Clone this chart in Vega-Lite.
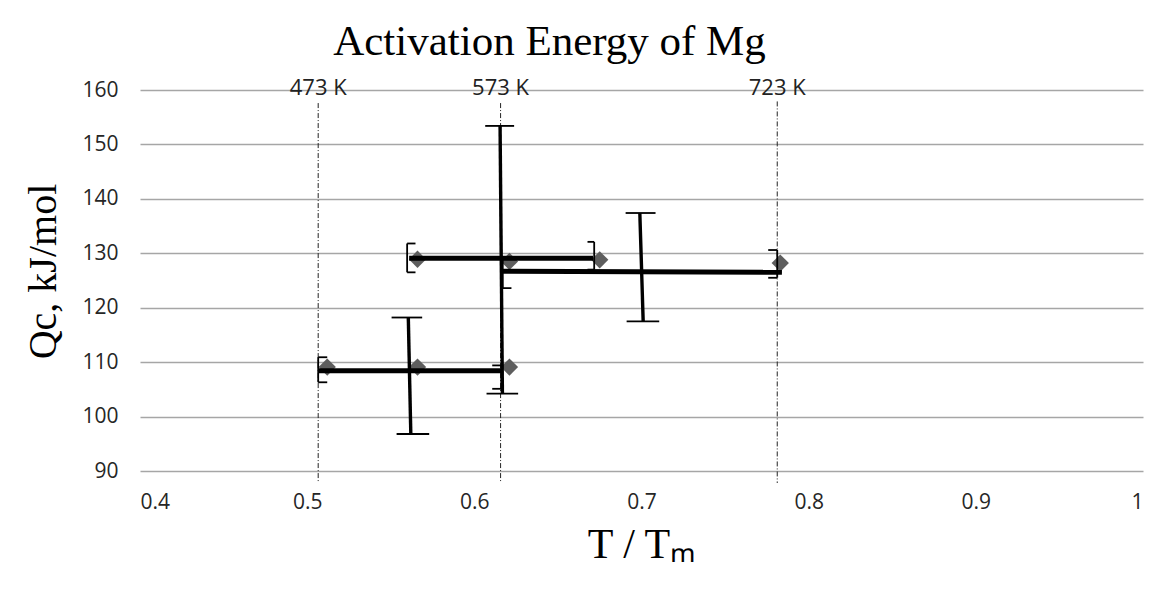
{
  "$schema": "https://vega.github.io/schema/vega-lite/v6.json",
  "width": 1003,
  "height": 381,
  "autosize": {"type": "none"},
  "padding": {"left": 140, "top": 90, "right": 24, "bottom": 119},
  "background": "white",
  "config": {
    "view": {"stroke": null},
    "font": "Open Sans",
    "axis": {"labelFont": "Open Sans", "labelColor": "#262626", "titleColor": "black", "titleFont": "Liberation Serif", "titleFontWeight": "normal"}
  },
  "title": {
    "text": "Activation Energy of Mg",
    "anchor": "middle",
    "dx": -92,
    "offset": -21,
    "baseline": "alphabetic",
    "font": "Liberation Serif",
    "fontSize": 43,
    "fontWeight": "normal",
    "color": "black"
  },
  "datasets": {
    "points": [
      {"t": 0.512, "q": 109.1},
      {"t": 0.566, "q": 109.1},
      {"t": 0.621, "q": 109.1},
      {"t": 0.566, "q": 128.9},
      {"t": 0.621, "q": 128.5},
      {"t": 0.675, "q": 128.8},
      {"t": 0.783, "q": 128.2}
    ],
    "temps": [
      {"label": "473 K", "t": 0.5066, "top": 157.6, "bottom": 87.8},
      {"label": "573 K", "t": 0.6157, "top": 157.6, "bottom": 87.8},
      {"label": "723 K", "t": 0.7812, "top": 157.9, "bottom": 87.8}
    ],
    "segments": [
      {"x": 0.507, "x2": 0.616, "y": 108.4, "y2": 108.4, "part": "bar"},
      {"x": 0.561, "x2": 0.671, "y": 129.1, "y2": 129.1, "part": "bar"},
      {"x": 0.617, "x2": 0.784, "y": 126.7, "y2": 126.5, "part": "bar"},
      {"x": 0.5605, "x2": 0.562, "y": 118.2, "y2": 96.8, "part": "err"},
      {"x": 0.6154, "x2": 0.6168, "y": 153.4, "y2": 104.2, "part": "err"},
      {"x": 0.699, "x2": 0.701, "y": 137.4, "y2": 117.5, "part": "err"},
      {"x": 0.5505, "x2": 0.5688, "y": 118.2, "y2": 118.2, "part": "cap"},
      {"x": 0.5535, "x2": 0.573, "y": 96.8, "y2": 96.8, "part": "cap"},
      {"x": 0.6065, "x2": 0.6238, "y": 153.4, "y2": 153.4, "part": "cap"},
      {"x": 0.6073, "x2": 0.6262, "y": 104.2, "y2": 104.2, "part": "cap"},
      {"x": 0.6905, "x2": 0.7084, "y": 137.4, "y2": 137.4, "part": "cap"},
      {"x": 0.6911, "x2": 0.7106, "y": 117.5, "y2": 117.5, "part": "cap"},
      {"x": 0.5066, "x2": 0.5066, "y": 110.9, "y2": 106.3, "part": "cap"},
      {"x": 0.5066, "x2": 0.512, "y": 110.9, "y2": 110.9, "part": "cap"},
      {"x": 0.5066, "x2": 0.512, "y": 106.3, "y2": 106.3, "part": "cap"},
      {"x": 0.6162, "x2": 0.6162, "y": 109.4, "y2": 105.1, "part": "cap"},
      {"x": 0.6107, "x2": 0.6162, "y": 109.4, "y2": 109.4, "part": "cap"},
      {"x": 0.6107, "x2": 0.6162, "y": 105.1, "y2": 105.1, "part": "cap"},
      {"x": 0.5598, "x2": 0.5598, "y": 131.8, "y2": 126.5, "part": "cap"},
      {"x": 0.5598, "x2": 0.5648, "y": 131.8, "y2": 131.8, "part": "cap"},
      {"x": 0.5598, "x2": 0.5648, "y": 126.5, "y2": 126.5, "part": "cap"},
      {"x": 0.6717, "x2": 0.6717, "y": 132.1, "y2": 127.0, "part": "cap"},
      {"x": 0.6677, "x2": 0.6717, "y": 132.1, "y2": 132.1, "part": "cap"},
      {"x": 0.6677, "x2": 0.6717, "y": 127.0, "y2": 127.0, "part": "cap"},
      {"x": 0.617, "x2": 0.617, "y": 129.0, "y2": 123.6, "part": "cap"},
      {"x": 0.617, "x2": 0.6222, "y": 129.0, "y2": 129.0, "part": "cap"},
      {"x": 0.617, "x2": 0.6222, "y": 123.6, "y2": 123.6, "part": "cap"},
      {"x": 0.7812, "x2": 0.7812, "y": 130.6, "y2": 125.5, "part": "cap"},
      {"x": 0.7758, "x2": 0.7812, "y": 130.6, "y2": 130.6, "part": "cap"},
      {"x": 0.7758, "x2": 0.7812, "y": 125.5, "y2": 125.5, "part": "cap"}
    ]
  },
  "encoding": {
    "x": {
      "type": "quantitative",
      "scale": {"domain": [0.4, 1], "nice": false, "zero": false},
      "axis": {
        "title": "T / Tₘ",
        "titleFontSize": 42,
        "titlePadding": 12,
        "values": [0.4, 0.5, 0.6, 0.7, 0.8, 0.9, 1],
        "format": "~g",
        "labelFontSize": 21,
        "labelPadding": 20,
        "ticks": false,
        "domain": false,
        "grid": false
      }
    },
    "y": {
      "type": "quantitative",
      "scale": {"domain": [90, 160], "nice": false, "zero": false},
      "axis": {
        "title": "Qc, kJ/mol",
        "titleFontSize": 40,
        "titlePadding": 18,
        "titleY": 181,
        "values": [90, 100, 110, 120, 130, 140, 150, 160],
        "labelFontSize": 21,
        "labelPadding": 22,
        "ticks": false,
        "domain": false,
        "grid": true,
        "gridColor": "#a6a6a6",
        "gridWidth": 1.5
      }
    }
  },
  "layer": [
    {
      "data": {"name": "temps"},
      "mark": {"type": "rule", "color": "#222222", "strokeWidth": 1, "strokeDash": [5, 2, 1, 2]},
      "encoding": {
        "x": {"field": "t"},
        "y": {"field": "top"},
        "y2": {"field": "bottom"}
      }
    },
    {
      "data": {"name": "temps"},
      "mark": {"type": "text", "fontSize": 22, "font": "Open Sans", "baseline": "alphabetic", "align": "center", "dy": 5, "color": "#222222"},
      "encoding": {
        "x": {"field": "t"},
        "y": {"datum": 160},
        "text": {"field": "label"}
      }
    },
    {
      "data": {"name": "points"},
      "mark": {"type": "point", "shape": "diamond", "filled": true, "size": 300, "color": "#5e5e5e", "opacity": 1},
      "encoding": {
        "x": {"field": "t"},
        "y": {"field": "q"}
      }
    },
    {
      "data": {"name": "segments"},
      "mark": {"type": "rule", "color": "black", "strokeCap": "butt"},
      "encoding": {
        "x": {"field": "x"},
        "x2": {"field": "x2"},
        "y": {"field": "y"},
        "y2": {"field": "y2"},
        "strokeWidth": {
          "field": "part", "type": "nominal",
          "scale": {"domain": ["bar", "err", "cap"], "range": [5, 1.8, 2]},
          "legend": null
        }
      }
    }
  ]
}
